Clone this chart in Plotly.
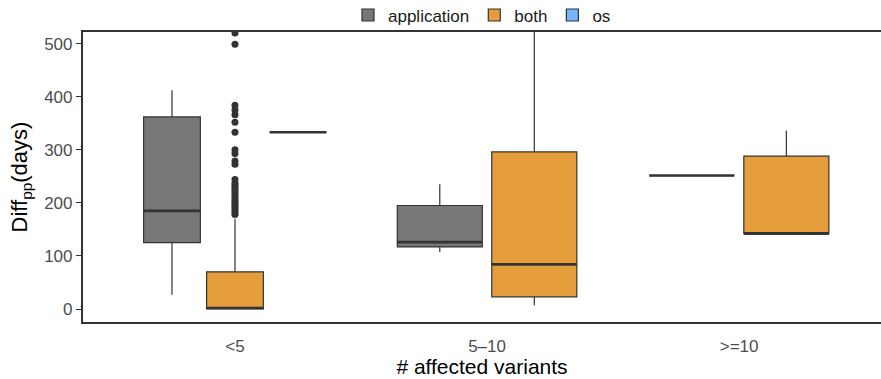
import plotly.graph_objects as go

# Categories and groups
categories = ["<5", "5\u201310", ">=10"]
groups = ["application", "both", "os"]
colors = {"application": "#777777", "both": "#E59E3B", "os": "#74B4FF"}

# Five-number summaries per group, one entry per category (None = group absent)
app_low = [27, 107.5, 251.5]
app_q1 = [125, 117, 251.5]
app_med = [185, 126, 251.5]
app_q3 = [362, 195, 251.5]
app_high = [412, 235, 251.5]

both_low = [0, 7, 142]
both_q1 = [0, 23, 142]
both_med = [2, 84, 142]
both_q3 = [70, 296, 288]
both_high = [170, 620, 336]

os_low = [333, None, None]
os_q1 = [333, None, None]
os_med = [333, None, None]
os_q3 = [333, None, None]
os_high = [333, None, None]

# Outlying observations of "both" in the "<5" category
both_outliers_lt5 = [520, 499, 384, 375, 366, 352, 333, 300, 293, 279, 273, 244,
                     237, 233, 229, 225, 221, 217, 213, 209, 205, 201, 197, 193,
                     189, 185, 181, 178]

stats = {
    "application": (app_low, app_q1, app_med, app_q3, app_high),
    "both": (both_low, both_q1, both_med, both_q3, both_high),
    "os": (os_low, os_q1, os_med, os_q3, os_high),
}

DODGE = 0.75
BOX_FRAC = 0.9
EDGE = "#333333"

fig = go.Figure()
shown = set()
positions = {}
for ci, cat in enumerate(categories):
    present = [g for g in groups if stats[g][2][ci] is not None]
    n = len(present)
    slot = DODGE / n
    bw = slot * BOX_FRAC
    for k, g in enumerate(present):
        xpos = ci - DODGE / 2 + slot * (k + 0.5)
        positions[(g, ci)] = (xpos, bw)
        lo, q1, med, q3, hi = (s[ci] for s in stats[g])
        fig.add_trace(go.Box(
            x=[xpos], q1=[q1], median=[med], q3=[q3],
            lowerfence=[lo], upperfence=[hi],
            width=bw, name=g, legendgroup=g,
            showlegend=g not in shown,
            fillcolor=colors[g], line=dict(color=EDGE, width=1.2),
            whiskerwidth=0, boxpoints=False, hoverinfo="skip",
        ))
        shown.add(g)
        # thicker median bar
        fig.add_trace(go.Scatter(
            x=[xpos - bw / 2, xpos + bw / 2], y=[med, med], mode="lines",
            line=dict(color=EDGE, width=2.6), showlegend=False,
            hoverinfo="skip", legendgroup=g,
        ))

ox, _ = positions[("both", 0)]
fig.add_trace(go.Scatter(
    x=[ox] * len(both_outliers_lt5), y=both_outliers_lt5, mode="markers",
    marker=dict(color=EDGE, size=7), showlegend=False, hoverinfo="skip",
    legendgroup="both",
))

fig.update_layout(
    width=881, height=379,
    margin=dict(l=83, r=0, t=32, b=57, autoexpand=False),
    paper_bgcolor="white", plot_bgcolor="white",
    boxmode="overlay",
    font=dict(family="Liberation Sans, Arial, sans-serif", size=17, color="#000000"),
    legend=dict(orientation="h", x=0.5, xanchor="center", y=1.057, yanchor="middle",
                font=dict(size=17, color="#1a1a1a"), traceorder="normal",
                itemwidth=30, tracegroupgap=0, bgcolor="rgba(0,0,0,0)"),
    xaxis=dict(
        range=[-0.603, 2.563], tickvals=[0, 1, 2], ticktext=categories,
        showgrid=False, zeroline=False, showline=True, linecolor=EDGE,
        linewidth=2.2, mirror=True, ticks="outside", ticklen=7,
        tickcolor="rgba(0,0,0,0)", tickfont=dict(size=17, color="#4D4D4D"),
        title=dict(text="# affected variants", font=dict(size=21, color="#000000"),
                   standoff=2),
    ),
    yaxis=dict(
        range=[-24.5, 522], tickvals=[0, 100, 200, 300, 400, 500],
        showgrid=False, zeroline=False, showline=True, linecolor=EDGE,
        linewidth=2.2, ticks="outside", ticklen=5, tickcolor=EDGE,
        tickfont=dict(size=17, color="#4D4D4D"),
        title=dict(text="Diff<sub>pp</sub>(days)", font=dict(size=22, color="#000000"),
                   standoff=10),
    ),
)

fig.write_html("out.html")
